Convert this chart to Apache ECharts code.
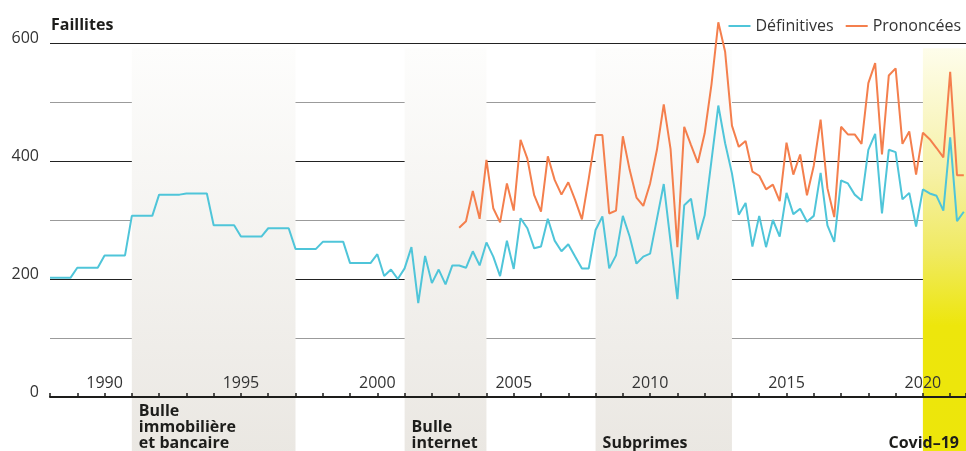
<!DOCTYPE html>
<html>
<head>
<meta charset="utf-8">
<script src="https://cdn.jsdelivr.net/npm/echarts@6/dist/echarts.min.js"></script>
<style>
  html, body { margin: 0; padding: 0; background: #fff; }
  #chart { width: 966px; height: 451px; }
</style>
</head>
<body>
<div id="chart"></div>
<script>
// séries trimestrielles, à partir de 1988 T1
const startYear = 1988;
const definitives = [
  202, 202, 202, 202, 219, 219, 219, 219, 240, 240, 240, 240,
  307, 307, 307, 307, 343, 343, 343, 343, 345, 345, 345, 345,
  291, 291, 291, 291, 272, 272, 272, 272, 286, 286, 286, 286,
  251, 251, 251, 251, 263, 263, 263, 263, 227, 227, 227, 227,
  242, 205, 216, 200, 218, 254, 159, 239, 193, 216, 191, 223,
  223, 219, 247, 223, 262, 238, 205, 265, 217, 303, 286, 252,
  255, 302, 265, 247, 259, 238, 218, 218, 283, 306, 218, 240,
  307, 272, 226, 238, 243, 302, 361, 263, 166, 325, 336, 267,
  308, 401, 494, 430, 379, 309, 329, 255, 307, 254, 300, 272,
  346, 310, 319, 297, 307, 380, 291, 263, 367, 362, 343, 333,
  419, 446, 311, 419, 415, 335, 346, 289, 352, 345, 341, 316,
  440, 298, 314
];
// prononcées : à partir de 2003 T1
const prononceesStart = 2003;
const prononcees = [
  287, 298, 349, 302, 402, 320, 296, 362, 316, 436, 404, 342,
  314, 408, 368, 343, 364, 334, 301, 370, 444, 444, 311, 316,
  442, 385, 338, 324, 362, 419, 496, 420, 254, 458, 427, 397,
  447, 530, 635, 585, 460, 424, 434, 382, 375, 352, 360, 332,
  431, 377, 411, 342, 392, 470, 354, 305, 458, 445, 445, 429,
  532, 566, 411, 545, 557, 429, 450, 377, 448, 437, 422, 406,
  551, 376, 376
];
// périodes de crise
const crisisNames = ['Bulle\nimmobilière\net bancaire', 'Bulle\ninternet', 'Subprimes', 'Covid\u201319'];
const crisisStart = [1991, 2001, 2008, 2020];
const crisisEnd = [1997, 2004, 2013, 2021.58];

const font = '"Open Sans", "Noto Sans", sans-serif';
const xMax = 2021.58;

const defData = definitives.map((v, i) => [startYear + i / 4, v]);
const proData = prononcees.map((v, i) => [prononceesStart + i / 4, v]);

const greyBand = new echarts.graphic.LinearGradient(0, 0, 0, 1, [
  { offset: 0, color: '#fdfdfc' },
  { offset: 1, color: '#eae7e2' }
]);
const covidBand = new echarts.graphic.LinearGradient(0, 0, 0, 1, [
  { offset: 0, color: '#fefdeb' },
  { offset: 0.3, color: '#f6f1a8' },
  { offset: 0.5, color: '#f0ea62' },
  { offset: 0.68, color: '#ede60c' },
  { offset: 1, color: '#ede60a' }
]);

const bands = crisisNames.map((name, i) => {
  const covid = i === crisisNames.length - 1;
  return [
    {
      xAxis: crisisStart[i], yAxis: 591,
      itemStyle: { color: covid ? covidBand : greyBand },
      label: {
        show: true,
        formatter: name,
        position: covid ? 'insideBottomRight' : 'insideBottomLeft',
        offset: covid ? [-2, 0] : [2, 0],
        fontFamily: font, fontWeight: 'bold', fontSize: 16, lineHeight: 16,
        color: '#1d1d1b', align: covid ? 'right' : 'left'
      }
    },
    { xAxis: crisisEnd[i], yAxis: -100 }
  ];
});

const myChart = echarts.init(document.getElementById('chart'));
myChart.setOption({
  animation: false,
  title: {
    text: 'Faillites', left: 46, top: 12,
    textStyle: { fontFamily: font, fontSize: 16, fontWeight: 'bold', color: '#1d1d1b' }
  },
  legend: {
    data: ['Définitives', 'Prononcées'],
    right: 0, top: 13, icon: 'rect', itemWidth: 22, itemHeight: 2, itemGap: 12,
    textStyle: { fontFamily: font, fontSize: 16, color: '#333' }
  },
  // la grille descend sous l'axe (jusqu'à -100) pour que les bandes atteignent le bas
  grid: { left: 50, right: 0, top: 43, bottom: -5, outerBoundsMode: 'none', containLabel: false },
  xAxis: {
    type: 'value', min: startYear, max: xMax, interval: 1, z: 5,
    offset: -59,
    axisLine: { onZero: false, lineStyle: { color: '#1d1d1b', width: 2 } },
    axisTick: { inside: true, length: 4, lineStyle: { color: '#1d1d1b', width: 1.5 } },
    axisLabel: {
      inside: true, margin: 6, fontFamily: font, fontSize: 16, color: '#333',
      formatter: v => (v % 5 === 0 ? String(v) : '')
    },
    splitLine: { show: false }
  },
  yAxis: {
    type: 'value', min: -100, max: 600, interval: 100, z: 1,
    axisLine: { show: false }, axisTick: { show: false },
    axisLabel: {
      margin: 11, fontFamily: font, fontSize: 16, color: '#333',
      verticalAlign: 'bottom', lineHeight: 10,
      formatter: v => (v >= 0 && v % 200 === 0 ? String(v) : '')
    },
    splitLine: { lineStyle: { color: ['#9b9b9b', '#222'], width: 1 } }
  },
  series: [
    {
      name: 'bands', type: 'line', data: [], z: 0,
      markArea: { silent: true, data: bands }
    },
    {
      name: 'Définitives', type: 'line', data: defData, z: 3, clip: false,
      symbol: 'none', color: '#4fc5d9', lineStyle: { width: 2 }
    },
    {
      name: 'Prononcées', type: 'line', data: proData, z: 3, clip: false,
      symbol: 'none', color: '#f47f4d', lineStyle: { width: 2 }
    }
  ]
});
window.onresize = function () {
  myChart.resize();
};
</script>
</body>
</html>
